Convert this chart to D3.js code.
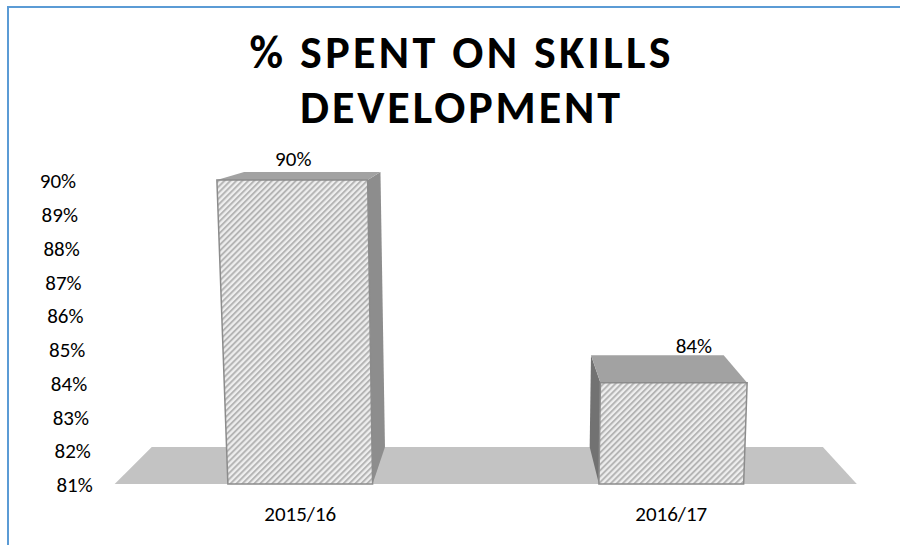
<!DOCTYPE html>
<html>
<head>
<meta charset="utf-8">
<script src="https://cdn.jsdelivr.net/npm/d3@7"></script>
<style>
  html, body { margin: 0; padding: 0; background: #fff; }
  svg { display: block; }
  text { font-family: Carlito, "Open Sans", "Noto Sans", sans-serif; fill: #000; }
</style>
</head>
<body>
<svg id="chart" width="900" height="545"></svg>
<script>
// ---- data ----
const titleLines = ["% SPENT ON SKILLS", "DEVELOPMENT"];
const categories = ["2015/16", "2016/17"];
const values = [0.90, 0.84];
const yTicks = [0.81, 0.82, 0.83, 0.84, 0.85, 0.86, 0.87, 0.88, 0.89, 0.90];

// ---- layout ----
const W = 900, H = 545;
const plot = { left: 99, right: 872, top: 180, bottom: 484 };
const labelSize = 21;

const svg = d3.select("#chart");

const x = d3.scaleBand()
  .domain(categories)
  .range([plot.left, plot.right])
  .paddingInner(0.61)
  .paddingOuter(0.305);

const y = d3.scaleLinear()
  .domain([0.81, 0.90])
  .range([plot.bottom, plot.top]);

const pct = d3.format(".0%");

// ---- simple 3D perspective: keystone on verticals + depth towards a vanishing point ----
const keyCx = 492, keyK = 0.04 / 304;
const vp = { x: 502, y: 96 };
const depth = 0.0956;

function proj(px, py, d) {
  const s = 1 - keyK * (py - plot.top);
  let sx = keyCx + (px - keyCx) * s;
  let sy = py;
  sx += d * (vp.x - sx);
  sy += d * (vp.y - sy);
  return [sx, sy];
}
const poly = pts => "M" + pts.map(p => p.join(",")).join("L") + "Z";

// ---- hatch pattern for the bar fronts ----
const defs = svg.append("defs");
const pat = defs.append("pattern")
  .attr("id", "hatch")
  .attr("patternUnits", "userSpaceOnUse")
  .attr("width", 4.2).attr("height", 4.2)
  .attr("patternTransform", "rotate(45)");
pat.append("rect").attr("width", 4.2).attr("height", 4.2).attr("fill", "#eeeeee");
pat.append("line")
  .attr("x1", 1).attr("y1", 0).attr("x2", 1).attr("y2", 4.2)
  .attr("stroke", "#b3b3b3").attr("stroke-width", 1.9);

// ---- frame ----
svg.append("path")
  .attr("d", `M8,${H + 2}V7H${W + 2}`)
  .attr("fill", "none")
  .attr("stroke", "#5b9bd5")
  .attr("stroke-width", 2);

// ---- title ----
const titleWidths = [421, 320];
const titleBase = [68, 123];
svg.append("g").selectAll("text")
  .data(titleLines)
  .join("text")
  .attr("x", 460)
  .attr("y", (d, i) => titleBase[i])
  .attr("text-anchor", "middle")
  .attr("font-size", 46)
  .attr("font-weight", "bold")
  .attr("textLength", (d, i) => titleWidths[i])
  .attr("lengthAdjust", "spacing")
  .text(d => d);

// ---- floor ----
svg.append("path")
  .attr("d", poly([
    proj(plot.left, plot.bottom, 0),
    proj(plot.right, plot.bottom, 0),
    proj(plot.right, plot.bottom, depth),
    proj(plot.left, plot.bottom, depth)
  ]))
  .attr("fill", "#c3c3c3");

// ---- y axis labels ----
svg.append("g").selectAll("text")
  .data(yTicks)
  .join("text")
  .attr("x", d => proj(76, y(d) + 1.5, 0)[0])
  .attr("y", d => y(d) + 1.5)
  .attr("dy", "0.32em")
  .attr("text-anchor", "end")
  .attr("font-size", labelSize)
  .text(d => pct(d));

// ---- bars ----
const bars = categories.map((c, i) => {
  const x0 = x(c), x1 = x(c) + x.bandwidth();
  const yt = y(values[i]), yb = plot.bottom;
  return {
    cat: c, value: values[i],
    fTL: proj(x0, yt, 0), fTR: proj(x1, yt, 0),
    fBL: proj(x0, yb, 0), fBR: proj(x1, yb, 0),
    bTL: proj(x0, yt, depth), bTR: proj(x1, yt, depth),
    bBL: proj(x0, yb, depth), bBR: proj(x1, yb, depth)
  };
});

const gBars = svg.append("g");
bars.forEach(b => {
  const g = gBars.append("g");
  // visible side face depends on which side of the vanishing point the bar sits
  if (b.fTR[0] < vp.x) {
    g.append("path")
      .attr("d", poly([b.fTR, b.bTR, b.bBR, b.fBR]))
      .attr("fill", "#8d8d8d");
  } else {
    g.append("path")
      .attr("d", poly([b.fTL, b.bTL, b.bBL, b.fBL]))
      .attr("fill", "#727272");
  }
  // top face
  g.append("path")
    .attr("d", poly([b.fTL, b.fTR, b.bTR, b.bTL]))
    .attr("fill", "#a2a2a2");
  // hatched front face
  g.append("path")
    .attr("d", poly([b.fTL, b.fTR, b.fBR, b.fBL]))
    .attr("fill", "url(#hatch)")
    .attr("stroke", "#8c8c8c")
    .attr("stroke-width", 1.5);
});

// ---- data labels ----
svg.append("g").selectAll("text")
  .data(bars)
  .join("text")
  .attr("x", b => {
    const c = (b.fTL[0] + b.fTR[0]) / 2;
    return c + 0.05 * (c - vp.x) + 11.5;
  })
  .attr("y", b => {
    const f = b.fTL[1], bk = b.bTL[1];
    return bk - 5 - 0.1 * (bk - f) + (b.value < 0.87 ? 0 : -2);
  })
  .attr("text-anchor", "middle")
  .attr("font-size", labelSize)
  .text(b => pct(b.value));

// ---- category labels ----
svg.append("g").selectAll("text")
  .data(bars)
  .join("text")
  .attr("x", b => (b.fBL[0] + b.fBR[0]) / 2)
  .attr("y", 521)
  .attr("text-anchor", "middle")
  .attr("font-size", labelSize)
  .text(b => b.cat);
</script>
</body>
</html>
